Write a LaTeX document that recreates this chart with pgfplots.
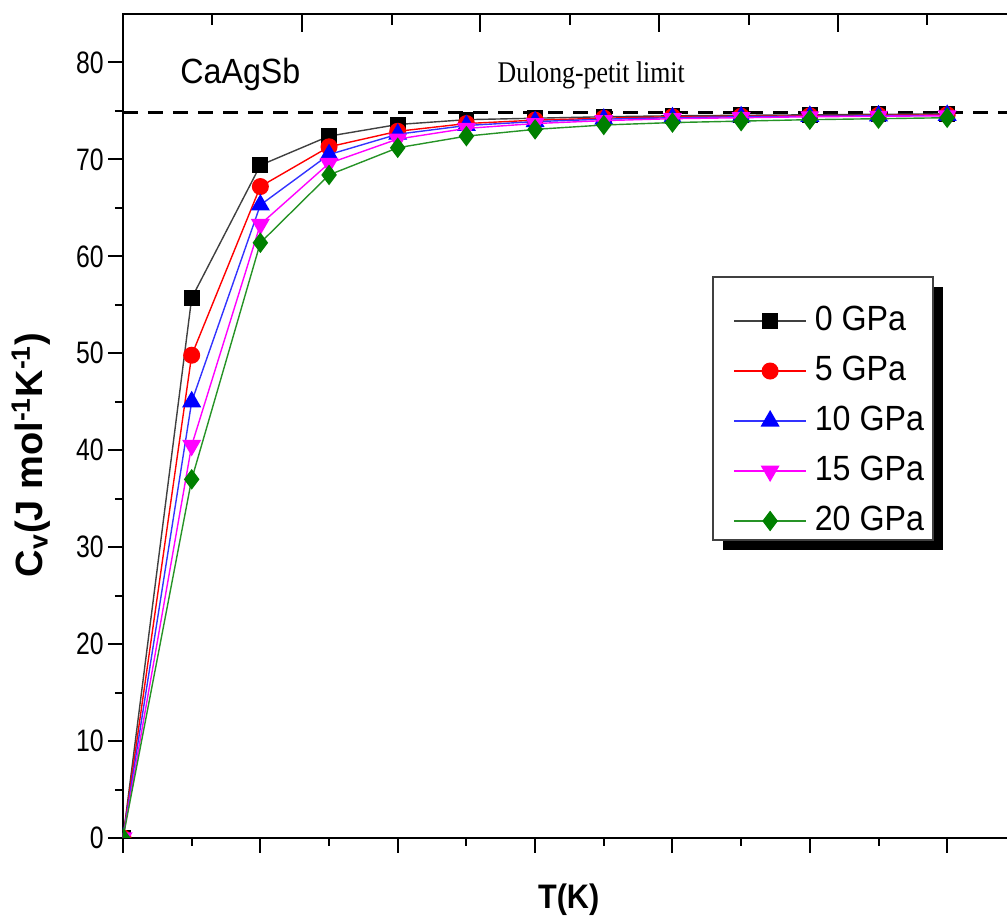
\documentclass[border=0pt]{standalone}
\usepackage{fontspec}
\setmainfont{Liberation Sans}
\newfontfamily\tickfont[FakeStretch=0.8]{Liberation Sans}
\newfontfamily\legfont[FakeStretch=0.92]{Liberation Sans}
\newfontfamily\xlabfont[FakeStretch=0.9]{Liberation Sans}
\newfontfamily\timesfont[FakeStretch=0.86]{Liberation Serif}
\usepackage{pgfplots}
\pgfplotsset{compat=1.18}
\definecolor{dgreen}{RGB}{0,128,0}
\definecolor{mag}{RGB}{255,0,255}
\definecolor{pred}{RGB}{255,0,0}
\definecolor{pblue}{RGB}{0,0,255}

\pgfplotstableread{
T    p0     p5     p10    p15    p20
0    0      0      0      0      0
100  55.7   49.8   45.0   40.5   37.0
200  69.4   67.2   65.3   63.3   61.4
300  72.4   71.3   70.5   69.6   68.4
400  73.6   72.9   72.6   72.1   71.2
500  74.1   73.7   73.5   73.2   72.4
600  74.25  74.05  73.9   73.7   73.1
700  74.4   74.25  74.15  74.0   73.55
800  74.5   74.4   74.3   74.2   73.8
900  74.55  74.45  74.4   74.3   73.95
1000 74.6   74.5   74.45  74.4   74.1
1100 74.65  74.55  74.5   74.45  74.2
1200 74.7   74.6   74.55  74.5   74.3
}\cvdata

\begin{document}
\begin{tikzpicture}
\useasboundingbox (0,0) rectangle (503.5pt,459.5pt);
\clip (0,0) rectangle (503.5pt,459.5pt);
\begin{axis}[
  scale only axis, width=443pt, height=412pt,
  at={(61.5pt,40.5pt)}, anchor=south west,
  xmin=0, xmax=1290, ymin=0, ymax=85,
  xtick={0,200,...,1200}, minor xtick={100,300,...,1100}, xticklabels={},
  ytick={0,10,...,80}, minor ytick={5,15,...,75},
  xtick pos=left, ytick pos=left, tick align=outside,
  major tick length=7.5pt, minor tick length=4pt,
  tick style={black, line width=1pt},
  axis line style={line width=1.2pt},
  /pgf/number format/assume math mode=true,
  yticklabel style={font=\tickfont\fontsize{15.5}{18}\selectfont, inner sep=2pt},
  xlabel={T(K)},
  xlabel style={at={(rel axis cs:0.503,-0.075)}, anchor=center, font=\xlabfont\bfseries\fontsize{17}{20}\selectfont},
  ylabel={C\textsubscript{v}(J mol\textsuperscript{-1}K\textsuperscript{-1})},
  ylabel style={at={(rel axis cs:-0.104,0.465)}, anchor=center, rotate=0, font=\bfseries\fontsize{19}{22}\selectfont},
  clip marker paths=true,
  legend cell align=left,
  legend style={at={(rel axis cs:0.6885,0.6473)}, anchor=north west,
    draw=none, fill=none, inner sep=0pt,
    font=\legfont\fontsize{17.5}{21}\selectfont,
    nodes={inner sep=0pt, text height=12.5pt, text depth=3.5pt},
    row sep=9pt,
    /tikz/every odd column/.append style={column sep=4pt}},
  legend image code/.code={%
    \draw[mark repeat=2,mark phase=2] plot coordinates {(0pt,0pt) (18pt,0pt) (36pt,0pt)};},
]
% legend frame and its shadow
\fill[black] (rel axis cs:0.6772,0.6687) rectangle (rel axis cs:0.9255,0.3495);
\draw[black!75, line width=0.6pt, fill=white] (rel axis cs:0.6659,0.6808) rectangle (rel axis cs:0.9142,0.3617);
\addplot[black, line width=1.6pt, dash pattern=on 7.5pt off 5pt, forget plot] coordinates {(0,74.83) (1290,74.83)};
\addplot[black!75, line width=0.7pt, mark=square*, mark size=3.6pt, mark options={black, solid}] table[x=T, y=p0] {\cvdata};
\addlegendentry{0 GPa}
\addplot[pred, line width=0.7pt, mark=*, mark size=3.9pt, mark options={pred, solid}] table[x=T, y=p5] {\cvdata};
\addlegendentry{5 GPa}
\addplot[pblue!80, line width=0.7pt, mark=triangle*, mark size=4.8pt, mark options={pblue, solid}] table[x=T, y=p10] {\cvdata};
\addlegendentry{10 GPa}
\addplot[mag, line width=0.7pt, mark=triangle*, mark size=4.8pt, mark options={mag, solid, rotate=180}] table[x=T, y=p15] {\cvdata};
\addlegendentry{15 GPa}
\addplot[dgreen!85, line width=0.7pt, mark=diamond*, mark size=4.6pt, mark options={dgreen, solid}] table[x=T, y=p20] {\cvdata};
\addlegendentry{20 GPa}
\node[anchor=base west, inner sep=0pt, font=\legfont\fontsize{17.5}{21}\selectfont] at (axis cs:83,77.8) {CaAgSb};
\node[anchor=base west, inner sep=0pt, font=\timesfont\fontsize{15}{18}\selectfont] at (axis cs:545,77.9) {Dulong-petit limit};
\end{axis}
\begin{axis}[
  scale only axis, width=443pt, height=412pt,
  at={(61.5pt,40.5pt)}, anchor=south west,
  xmin=123, xmax=1009, ymin=81, ymax=905,
  axis line style={draw=none},
  tick align=inside, xtick pos=right, ytick pos=right,
  xtick={302,480,659,838}, minor xtick={212,392,570,749,927},
  ytick=\empty, minor ytick={744,576,409,246},
  xticklabels={},
  major tick length=9pt, minor tick length=5.5pt,
  tick style={black, line width=1pt},
]
\end{axis}
\end{tikzpicture}
\end{document}
